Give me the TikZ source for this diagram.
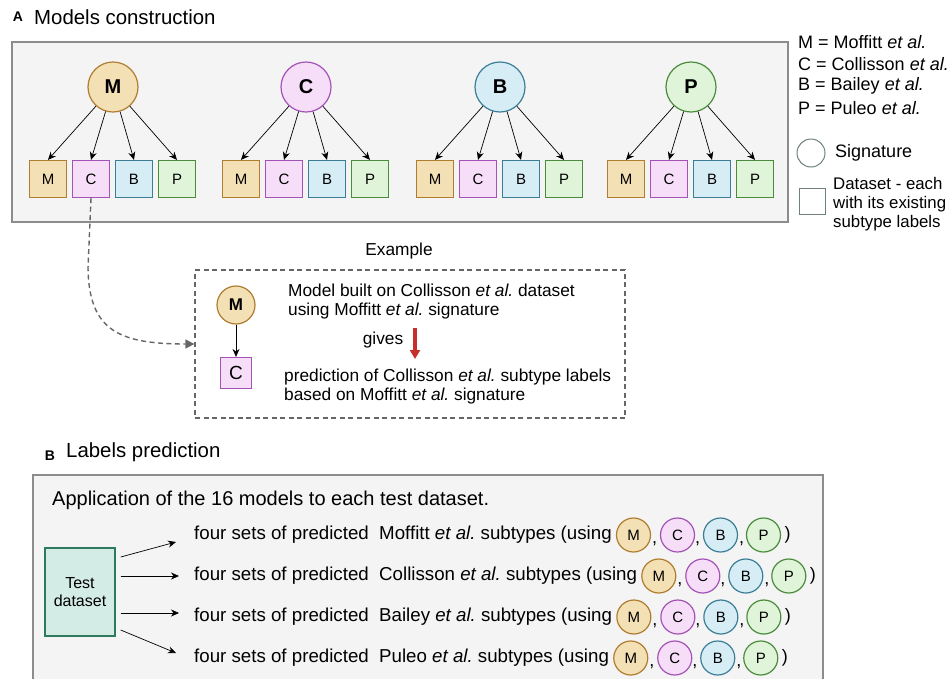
\documentclass[tikz,border=0pt]{standalone}
\usepackage{fontspec}
\setmainfont{Liberation Sans}
\usetikzlibrary{arrows.meta,positioning}

\definecolor{mfill}{HTML}{F3E0B5}
\definecolor{mline}{HTML}{B07C30}
\definecolor{cfill}{HTML}{F6DEF8}
\definecolor{cline}{HTML}{A452B5}
\definecolor{bfill}{HTML}{D6EDF5}
\definecolor{bline}{HTML}{3C7D96}
\definecolor{pfill}{HTML}{E0F4D9}
\definecolor{pline}{HTML}{4A8C3C}
\definecolor{panelfill}{HTML}{F4F4F4}
\definecolor{panelline}{HTML}{8C8C8C}
\definecolor{tfill}{HTML}{D4ECE6}
\definecolor{tline}{HTML}{2F7A5E}
\definecolor{legline}{HTML}{6F7F7F}
\definecolor{dashgray}{HTML}{666666}
\definecolor{givesred}{HTML}{C62F2A}

\tikzset{
  body/.style={inner sep=1pt, font=\fontsize{18}{19}\selectfont},
  extxt/.style={inner sep=1pt, font=\fontsize{17.3}{19}\selectfont},
  title/.style={inner sep=1pt, font=\fontsize{20.4}{22}\selectfont},
  tag/.style={inner sep=0pt, font=\bfseries\fontsize{14}{16}\selectfont},
  sig/.style={circle, draw, line width=1.2pt, minimum size=50pt, inner sep=0pt,
    font=\bfseries\fontsize{20}{22}\selectfont},
  dset/.style={rectangle, draw, line width=1.2pt, minimum size=37pt, inner sep=0pt,
    font=\fontsize{15}{17}\selectfont},
  mini/.style={circle, draw, line width=1.2pt, minimum size=34pt, inner sep=0pt,
    font=\fontsize{15}{17}\selectfont},
  colM/.style={fill=mfill, draw=mline},
  colC/.style={fill=cfill, draw=cline},
  colB/.style={fill=bfill, draw=bline},
  colP/.style={fill=pfill, draw=pline},
  panel/.style={fill=panelfill, draw=panelline, line width=1.6pt},
  exbox/.style={draw=dashgray, dashed, dash pattern=on 5pt off 3.5pt, line width=1.3pt},
  testbox/.style={fill=tfill, draw=tline, line width=1.4pt, minimum width=70pt,
    minimum height=88pt, align=center, font=\fontsize{16}{18}\selectfont},
  arr/.style={-{Stealth[length=8pt,width=7pt]}, line width=0.7pt},
  dashconn/.style={draw=dashgray, dash pattern=on 5pt off 3.5pt, line width=1.4pt,
    -{Triangle[length=9pt,width=9pt]}},
  redarr/.style={draw=givesred, line width=3.5pt, -{Triangle[length=9pt,width=10pt]}}
}

\begin{document}
\frenchspacing
\begin{tikzpicture}[x=1pt,y=-1pt]
  \useasboundingbox (0,0) rectangle (952,678);

  % panel A
  \node[tag] (tagA) at (18,17) {A};
  \node[title, anchor=west] (titleA) at (33,17) {Models construction};
  \draw[panel] (12,42) rectangle (788,222);
  \foreach \s/\x in {M/113,C/306,B/500,P/691} {
    \node[sig, col\s] (sig\s) at (\x,87) {\s};
    \foreach \d/\dx in {M/-65,C/-22,B/21,P/64} {
      \node[dset, col\d] (ds\s\d) at (\x+\dx,179) {\d};
      \draw[arr] (sig\s) -- (ds\s\d.north);
    }
  }

  % legend
  \node[body, anchor=west] (legM) at (797,42) {M = Moffitt \textit{et al.}};
  \node[body, anchor=west] (legC) at (797,64) {C = Collisson \textit{et al.}};
  \node[body, anchor=west] (legB) at (797,86) {B = Bailey \textit{et al.}};
  \node[body, anchor=west] (legP) at (797,108) {P = Puleo \textit{et al.}};
  \node[circle, draw=legline, line width=1pt, minimum size=28pt, inner sep=0pt] (legsig) at (811,153) {};
  \node[body, anchor=west] (legsigtxt) at (834,153) {Signature};
  \node[draw=legline, line width=1pt, minimum size=26pt, inner sep=0pt] (legds) at (812,201) {};
  \node[extxt, font=\fontsize{16.8}{19}\selectfont, anchor=west, align=left] (legdstxt) at (832,204) {Dataset - each\\with its existing\\subtype labels};

  % example
  \node[extxt] (extitle) at (399,251) {Example};
  \node[exbox, minimum width=430pt, minimum height=148pt] (exbox) at (410,344) {};
  \draw[dashconn] (dsMC.south) -- (88,268) .. controls (89,330) and (118,344) .. (exbox.west);
  \node[sig, colM, minimum size=38pt, font=\bfseries\fontsize{17}{19}\selectfont] (exsig) at (236,305) {M};
  \node[dset, colC, minimum size=31pt, font=\fontsize{19}{21}\selectfont] (exds) at (236,373) {C};
  \draw[arr] (exsig) -- (exds);
  \node[extxt, anchor=west, align=left] (exbuilt) at (287,301.5) {Model built on Collisson \textit{et al.} dataset\\using Moffitt \textit{et al.} signature};
  \node[extxt] (gives) at (383,340) {gives};
  \coordinate (gtop) at (415,328);
  \coordinate (gbot) at (415,359);
  \draw[redarr] (gtop) -- (gbot);
  \node[extxt, anchor=west, align=left] (expred) at (283,386.5) {prediction of Collisson \textit{et al.} subtype labels\\based on Moffitt \textit{et al.} signature};

  % panel B
  \node[tag] (tagB) at (50,456) {B};
  \node[title, anchor=west] (titleB) at (65,452) {Labels prediction};
  \draw[panel] (33,475) rectangle (823,700);
  \node[title, font=\fontsize{20}{22}\selectfont, anchor=west] (appl) at (51,500) {Application of the 16 models to each test dataset.};
  \node[testbox] (test) at (80,592) {Test\\dataset};
  \foreach \i/\name in {1/Moffitt,2/Collisson,3/Bailey,4/Puleo} {
    \node[body, font=\fontsize{18.7}{19}\selectfont, anchor=west] (row\i) at (193,494+41*\i) {four sets of predicted\ \ \name\ \textit{et al.} subtypes (using};
    \node[mini, colM, right=3pt of row\i] (r\i m) {M};
    \node[mini, colC] (r\i c) at ([xshift=44pt]r\i m) {C};
    \node[mini, colB] (r\i b) at ([xshift=87pt]r\i m) {B};
    \node[mini, colP] (r\i p) at ([xshift=130pt]r\i m) {P};
    \foreach \k in {21,64,108} {
      \node[body, inner sep=0pt] at ([xshift=\k pt,yshift=-9pt]r\i m) {,};
    }
    \node[body] (r\i close) at ([xshift=154pt]r\i m) {)};
  }
  \draw[arr] ([xshift=5pt,yshift=35pt]test.east) -- ([xshift=-17pt,yshift=-7pt]row1.west);
  \draw[arr] ([xshift=5pt,yshift=16pt]test.east) -- ([xshift=-14pt]row2.west);
  \draw[arr] ([xshift=5pt,yshift=-21pt]test.east) -- ([xshift=-14pt,yshift=4pt]row3.west);
  \draw[arr] ([xshift=5pt,yshift=-38pt]test.east) -- ([xshift=-17pt,yshift=5pt]row4.west);
\end{tikzpicture}
\end{document}
